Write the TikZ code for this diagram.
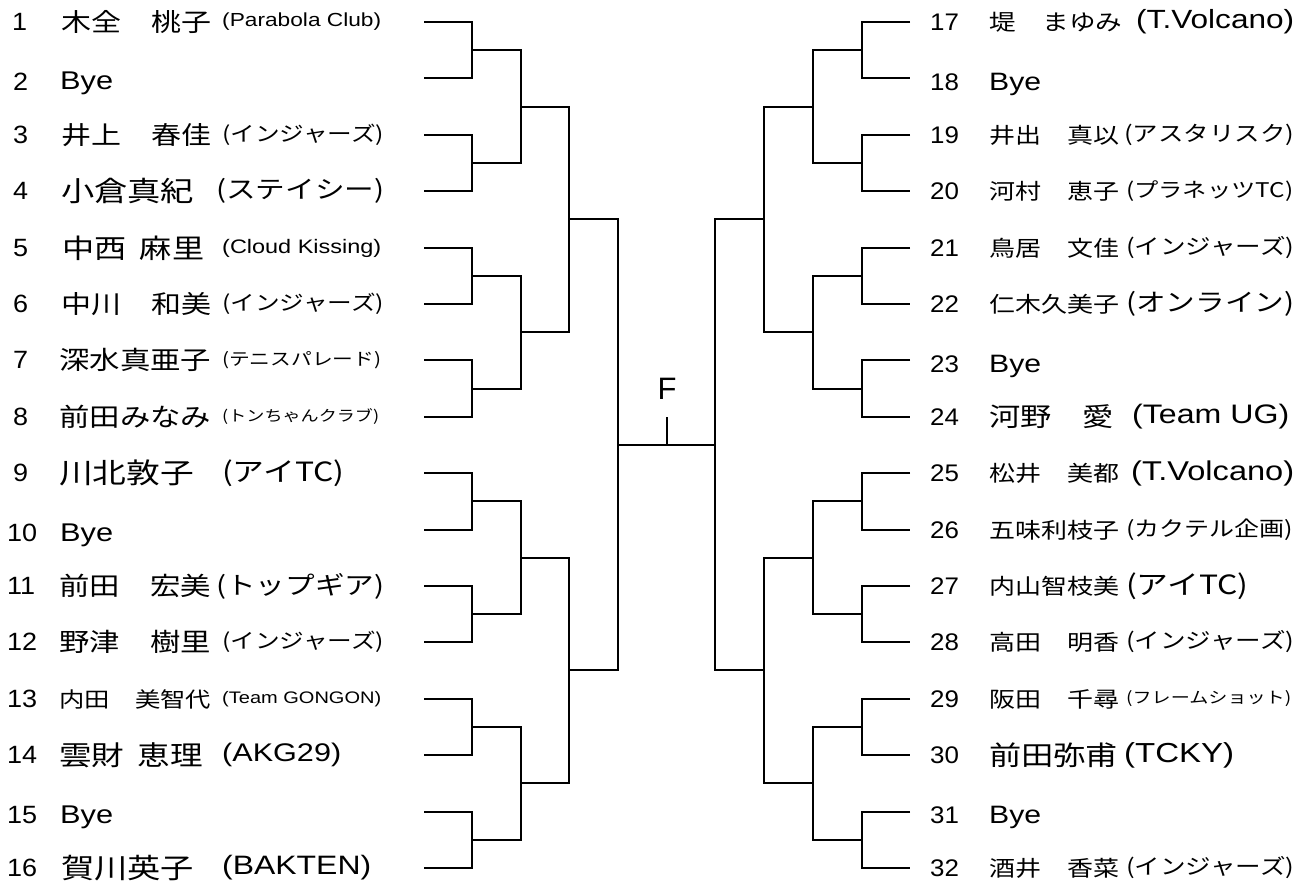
\documentclass[tikz,border=0pt]{standalone}
\usepackage{fontspec}
\usepackage{graphicx}
\setmainfont{Liberation Sans}[FakeStretch=1.2]
\newfontfamily\jp{Noto Sans CJK JP}[FakeStretch=1.2]
\newfontfamily\numfont{Liberation Sans}[FakeStretch=1.08]
\newfontfamily\flabelfont{Liberation Sans}
\newcommand{\fitw}[2]{\resizebox{#1pt}{!}{#2}}

\tikzset{
	bracket/.style={line width=2pt},
	seed/.style={anchor=west, inner sep=0pt, font=\numfont\fontsize{25}{25}\selectfont},
	seedr/.style={seed, font=\numfont\fontsize{24}{24}\selectfont},
	player/.style={anchor=west, inner sep=0pt, font=\jp\fontsize{25}{25}\selectfont},
	bye/.style={anchor=base west, inner sep=0pt, font=\fontsize{25}{25}\selectfont},
	club/.style={anchor=west, inner sep=0pt, font=\jp\fontsize{25}{25}\selectfont},
	clublat/.style={club, font=\fontsize{25}{25}\selectfont},
	flabel/.style={inner sep=0pt, font=\flabelfont\fontsize{31}{31}\selectfont},
}

\begin{document}
\begin{tikzpicture}[x=1pt, y=-1pt]
		\useasboundingbox (0,0) rectangle (1312,883);
		
		% Left side 1 - 8
		\node[seed] (Num1) at (12,22) {1};
		\node[player] (Player1) at (61,22) {\fitw{150}{木全　桃子}};
		\node[clublat] (Club1) at (222,22) {\fitw{159}{(Parabola Club)}};
		\coordinate (Entry1) at (424,22);
		
		\node[seed] (Num2) at (13,82) {2};
		\node[bye] (Player2) at (60,90) {\fitw{53}{Bye}};
		\coordinate (Entry2) at (424,78);
		
		\node[seed] (Num3) at (13,135) {3};
		\node[player] (Player3) at (61,135) {\fitw{150}{井上　春佳}};
		\node[club] (Club3) at (222,135) {\fitw{162}{(インジャーズ)}};
		\coordinate (Entry3) at (424,135);
		
		\node[seed] (Num4) at (13,191) {4};
		\node[player] (Player4) at (61,191) {\fitw{133}{小倉真紀}};
		\node[club] (Club4) at (216,191) {\fitw{168}{(ステイシー)}};
		\coordinate (Entry4) at (424,191);
		
		\node[seed] (Num5) at (13,248) {5};
		\node[player] (Player5) at (62,248) {\fitw{142}{中西\hspace{.5em}麻里}};
		\node[clublat] (Club5) at (222,248) {\fitw{159}{(Cloud Kissing)}};
		\coordinate (Entry5) at (424,248);
		
		\node[seed] (Num6) at (13,304) {6};
		\node[player] (Player6) at (61,304) {\fitw{150}{中川　和美}};
		\node[club] (Club6) at (222,304) {\fitw{162}{(インジャーズ)}};
		\coordinate (Entry6) at (424,304);
		
		\node[seed] (Num7) at (13,360) {7};
		\node[player] (Player7) at (59,360) {\fitw{152}{深水真亜子}};
		\node[club] (Club7) at (222,360) {\fitw{159}{(テニスパレード)}};
		\coordinate (Entry7) at (424,360);
		
		\node[seed] (Num8) at (13,417) {8};
		\node[player] (Player8) at (59,417) {\fitw{152}{前田みなみ}};
		\node[club] (Club8) at (222,417) {\fitw{157}{(トンちゃんクラブ)}};
		\coordinate (Entry8) at (424,417);
		
		% Left side 9 - 16
		\node[seed] (Num9) at (13,473) {9};
		\node[player] (Player9) at (59,473) {\fitw{135}{川北敦子}};
		\node[club] (Club9) at (222,473) {\fitw{122}{(アイTC)}};
		\coordinate (Entry9) at (424,473);
		
		\node[seed] (Num10) at (7,533) {10};
		\node[bye] (Player10) at (60,541) {\fitw{53}{Bye}};
		\coordinate (Entry10) at (424,530);
		
		\node[seed] (Num11) at (7,586) {11};
		\node[player] (Player11) at (59,586) {\fitw{152}{前田　宏美}};
		\node[club] (Club11) at (216,586) {\fitw{168}{(トップギア)}};
		\coordinate (Entry11) at (424,586);
		
		\node[seed] (Num12) at (7,642) {12};
		\node[player] (Player12) at (59,642) {\fitw{152}{野津　樹里}};
		\node[club] (Club12) at (222,642) {\fitw{162}{(インジャーズ)}};
		\coordinate (Entry12) at (424,642);
		
		\node[seed] (Num13) at (7,699) {13};
		\node[player] (Player13) at (59,699) {\fitw{152}{内田　美智代}};
		\node[clublat] (Club13) at (222,699) {\fitw{159}{(Team GONGON)}};
		\coordinate (Entry13) at (424,699);
		
		\node[seed] (Num14) at (7,755) {14};
		\node[player] (Player14) at (59,755) {\fitw{144}{雲財\hspace{.5em}恵理}};
		\node[clublat] (Club14) at (222,755) {\fitw{119}{(AKG29)}};
		\coordinate (Entry14) at (424,755);
		
		\node[seed] (Num15) at (7,815) {15};
		\node[bye] (Player15) at (60,823) {\fitw{53}{Bye}};
		\coordinate (Entry15) at (424,812);
		
		\node[seed] (Num16) at (7,868) {16};
		\node[player] (Player16) at (61,868) {\fitw{133}{賀川英子}};
		\node[clublat] (Club16) at (222,868) {\fitw{149}{(BAKTEN)}};
		\coordinate (Entry16) at (424,868);
		
		% Right side 17 - 24
		\node[seedr] (Num17) at (930,22) {17};
		\node[player] (Player17) at (989,22) {\fitw{133}{堤　まゆみ}};
		\node[clublat] (Club17) at (1136,22) {\fitw{158}{(T.Volcano)}};
		\coordinate (Entry17) at (910,22);
		
		\node[seedr] (Num18) at (930,82) {18};
		\node[bye] (Player18) at (989,90) {\fitw{52}{Bye}};
		\coordinate (Entry18) at (910,78);
		
		\node[seedr] (Num19) at (930,135) {19};
		\node[player] (Player19) at (989,135) {\fitw{130}{井出　真以}};
		\node[club] (Club19) at (1124,135) {\fitw{170}{(アスタリスク)}};
		\coordinate (Entry19) at (910,135);
		
		\node[seedr] (Num20) at (930,191) {20};
		\node[player] (Player20) at (989,191) {\fitw{130}{河村　恵子}};
		\node[club] (Club20) at (1126,191) {\fitw{167}{(プラネッツTC)}};
		\coordinate (Entry20) at (910,191);
		
		\node[seedr] (Num21) at (930,248) {21};
		\node[player] (Player21) at (989,248) {\fitw{130}{鳥居　文佳}};
		\node[club] (Club21) at (1126,248) {\fitw{168}{(インジャーズ)}};
		\coordinate (Entry21) at (910,248);
		
		\node[seedr] (Num22) at (930,304) {22};
		\node[player] (Player22) at (989,304) {\fitw{130}{仁木久美子}};
		\node[club] (Club22) at (1126,304) {\fitw{168}{(オンライン)}};
		\coordinate (Entry22) at (910,304);
		
		\node[seedr] (Num23) at (930,364) {23};
		\node[bye] (Player23) at (989,372) {\fitw{52}{Bye}};
		\coordinate (Entry23) at (910,360);
		
		\node[seedr] (Num24) at (930,417) {24};
		\node[player] (Player24) at (989,417) {\fitw{125}{河野　愛}};
		\node[clublat] (Club24) at (1132,417) {\fitw{157}{(Team UG)}};
		\coordinate (Entry24) at (910,417);
		
		% Right side 25 - 32
		\node[seedr] (Num25) at (930,473) {25};
		\node[player] (Player25) at (989,473) {\fitw{130}{松井　美都}};
		\node[clublat] (Club25) at (1131,473) {\fitw{163}{(T.Volcano)}};
		\coordinate (Entry25) at (910,473);
		
		\node[seedr] (Num26) at (930,530) {26};
		\node[player] (Player26) at (989,530) {\fitw{130}{五味利枝子}};
		\node[club] (Club26) at (1126,530) {\fitw{167}{(カクテル企画)}};
		\coordinate (Entry26) at (910,530);
		
		\node[seedr] (Num27) at (930,586) {27};
		\node[player] (Player27) at (989,586) {\fitw{130}{内山智枝美}};
		\node[club] (Club27) at (1126,586) {\fitw{122}{(アイTC)}};
		\coordinate (Entry27) at (910,586);
		
		\node[seedr] (Num28) at (930,642) {28};
		\node[player] (Player28) at (989,642) {\fitw{130}{高田　明香}};
		\node[club] (Club28) at (1126,642) {\fitw{168}{(インジャーズ)}};
		\coordinate (Entry28) at (910,642);
		
		\node[seedr] (Num29) at (930,699) {29};
		\node[player] (Player29) at (989,699) {\fitw{130}{阪田　千尋}};
		\node[club] (Club29) at (1126,699) {\fitw{165}{(フレームショット)}};
		\coordinate (Entry29) at (910,699);
		
		\node[seedr] (Num30) at (930,755) {30};
		\node[player] (Player30) at (989,755) {\fitw{129}{前田弥甫}};
		\node[clublat] (Club30) at (1124,755) {\fitw{110}{(TCKY)}};
		\coordinate (Entry30) at (910,755);
		
		\node[seedr] (Num31) at (930,815) {31};
		\node[bye] (Player31) at (989,823) {\fitw{52}{Bye}};
		\coordinate (Entry31) at (910,812);
		
		\node[seedr] (Num32) at (930,868) {32};
		\node[player] (Player32) at (989,868) {\fitw{130}{酒井　香菜}};
		\node[club] (Club32) at (1126,868) {\fitw{168}{(インジャーズ)}};
		\coordinate (Entry32) at (910,868);
		
		% First round
		\coordinate (MatchA1) at (472,50);
		\coordinate (MatchA2) at (472,163);
		\coordinate (MatchA3) at (472,276);
		\coordinate (MatchA4) at (472,389);
		\coordinate (MatchA5) at (472,501);
		\coordinate (MatchA6) at (472,614);
		\coordinate (MatchA7) at (472,727);
		\coordinate (MatchA8) at (472,840);
		\coordinate (MatchA9) at (862,50);
		\coordinate (MatchA10) at (862,163);
		\coordinate (MatchA11) at (862,276);
		\coordinate (MatchA12) at (862,389);
		\coordinate (MatchA13) at (862,501);
		\coordinate (MatchA14) at (862,614);
		\coordinate (MatchA15) at (862,727);
		\coordinate (MatchA16) at (862,840);
		\draw[bracket] (Entry1) -| (MatchA1) |- (Entry2);
		\draw[bracket] (Entry3) -| (MatchA2) |- (Entry4);
		\draw[bracket] (Entry5) -| (MatchA3) |- (Entry6);
		\draw[bracket] (Entry7) -| (MatchA4) |- (Entry8);
		\draw[bracket] (Entry9) -| (MatchA5) |- (Entry10);
		\draw[bracket] (Entry11) -| (MatchA6) |- (Entry12);
		\draw[bracket] (Entry13) -| (MatchA7) |- (Entry14);
		\draw[bracket] (Entry15) -| (MatchA8) |- (Entry16);
		\draw[bracket] (Entry17) -| (MatchA9) |- (Entry18);
		\draw[bracket] (Entry19) -| (MatchA10) |- (Entry20);
		\draw[bracket] (Entry21) -| (MatchA11) |- (Entry22);
		\draw[bracket] (Entry23) -| (MatchA12) |- (Entry24);
		\draw[bracket] (Entry25) -| (MatchA13) |- (Entry26);
		\draw[bracket] (Entry27) -| (MatchA14) |- (Entry28);
		\draw[bracket] (Entry29) -| (MatchA15) |- (Entry30);
		\draw[bracket] (Entry31) -| (MatchA16) |- (Entry32);
		
		% Second round
		\coordinate (MatchB1) at (521,107);
		\coordinate (MatchB2) at (521,332);
		\coordinate (MatchB3) at (521,558);
		\coordinate (MatchB4) at (521,783);
		\coordinate (MatchB5) at (813,107);
		\coordinate (MatchB6) at (813,332);
		\coordinate (MatchB7) at (813,558);
		\coordinate (MatchB8) at (813,783);
		\draw[bracket] (MatchA1) -| (MatchB1) |- (MatchA2);
		\draw[bracket] (MatchA3) -| (MatchB2) |- (MatchA4);
		\draw[bracket] (MatchA5) -| (MatchB3) |- (MatchA6);
		\draw[bracket] (MatchA7) -| (MatchB4) |- (MatchA8);
		\draw[bracket] (MatchA9) -| (MatchB5) |- (MatchA10);
		\draw[bracket] (MatchA11) -| (MatchB6) |- (MatchA12);
		\draw[bracket] (MatchA13) -| (MatchB7) |- (MatchA14);
		\draw[bracket] (MatchA15) -| (MatchB8) |- (MatchA16);
		
		% Quarter finals
		\coordinate (MatchC1) at (569,219);
		\coordinate (MatchC2) at (569,670);
		\coordinate (MatchC3) at (764,219);
		\coordinate (MatchC4) at (764,670);
		\draw[bracket] (MatchB1) -| (MatchC1) |- (MatchB2);
		\draw[bracket] (MatchB3) -| (MatchC2) |- (MatchB4);
		\draw[bracket] (MatchB5) -| (MatchC3) |- (MatchB6);
		\draw[bracket] (MatchB7) -| (MatchC4) |- (MatchB8);
		
		% Semi finals and final
		\coordinate (SemiL) at (618,445);
		\coordinate (SemiR) at (715,445);
		\draw[bracket] (MatchC1) -| (SemiL) |- (MatchC2);
		\draw[bracket] (MatchC3) -| (SemiR) |- (MatchC4);
		\draw[bracket] (SemiL) -- (SemiR);
		
		\coordinate (FinalMid) at (667,445);
		\coordinate (FinalTop) at (667,417);
		\draw[bracket] (FinalMid) -- (FinalTop);
		\node[flabel] (FinalLabel) at (667,389) {F};
		
	\end{tikzpicture}
\end{document}
